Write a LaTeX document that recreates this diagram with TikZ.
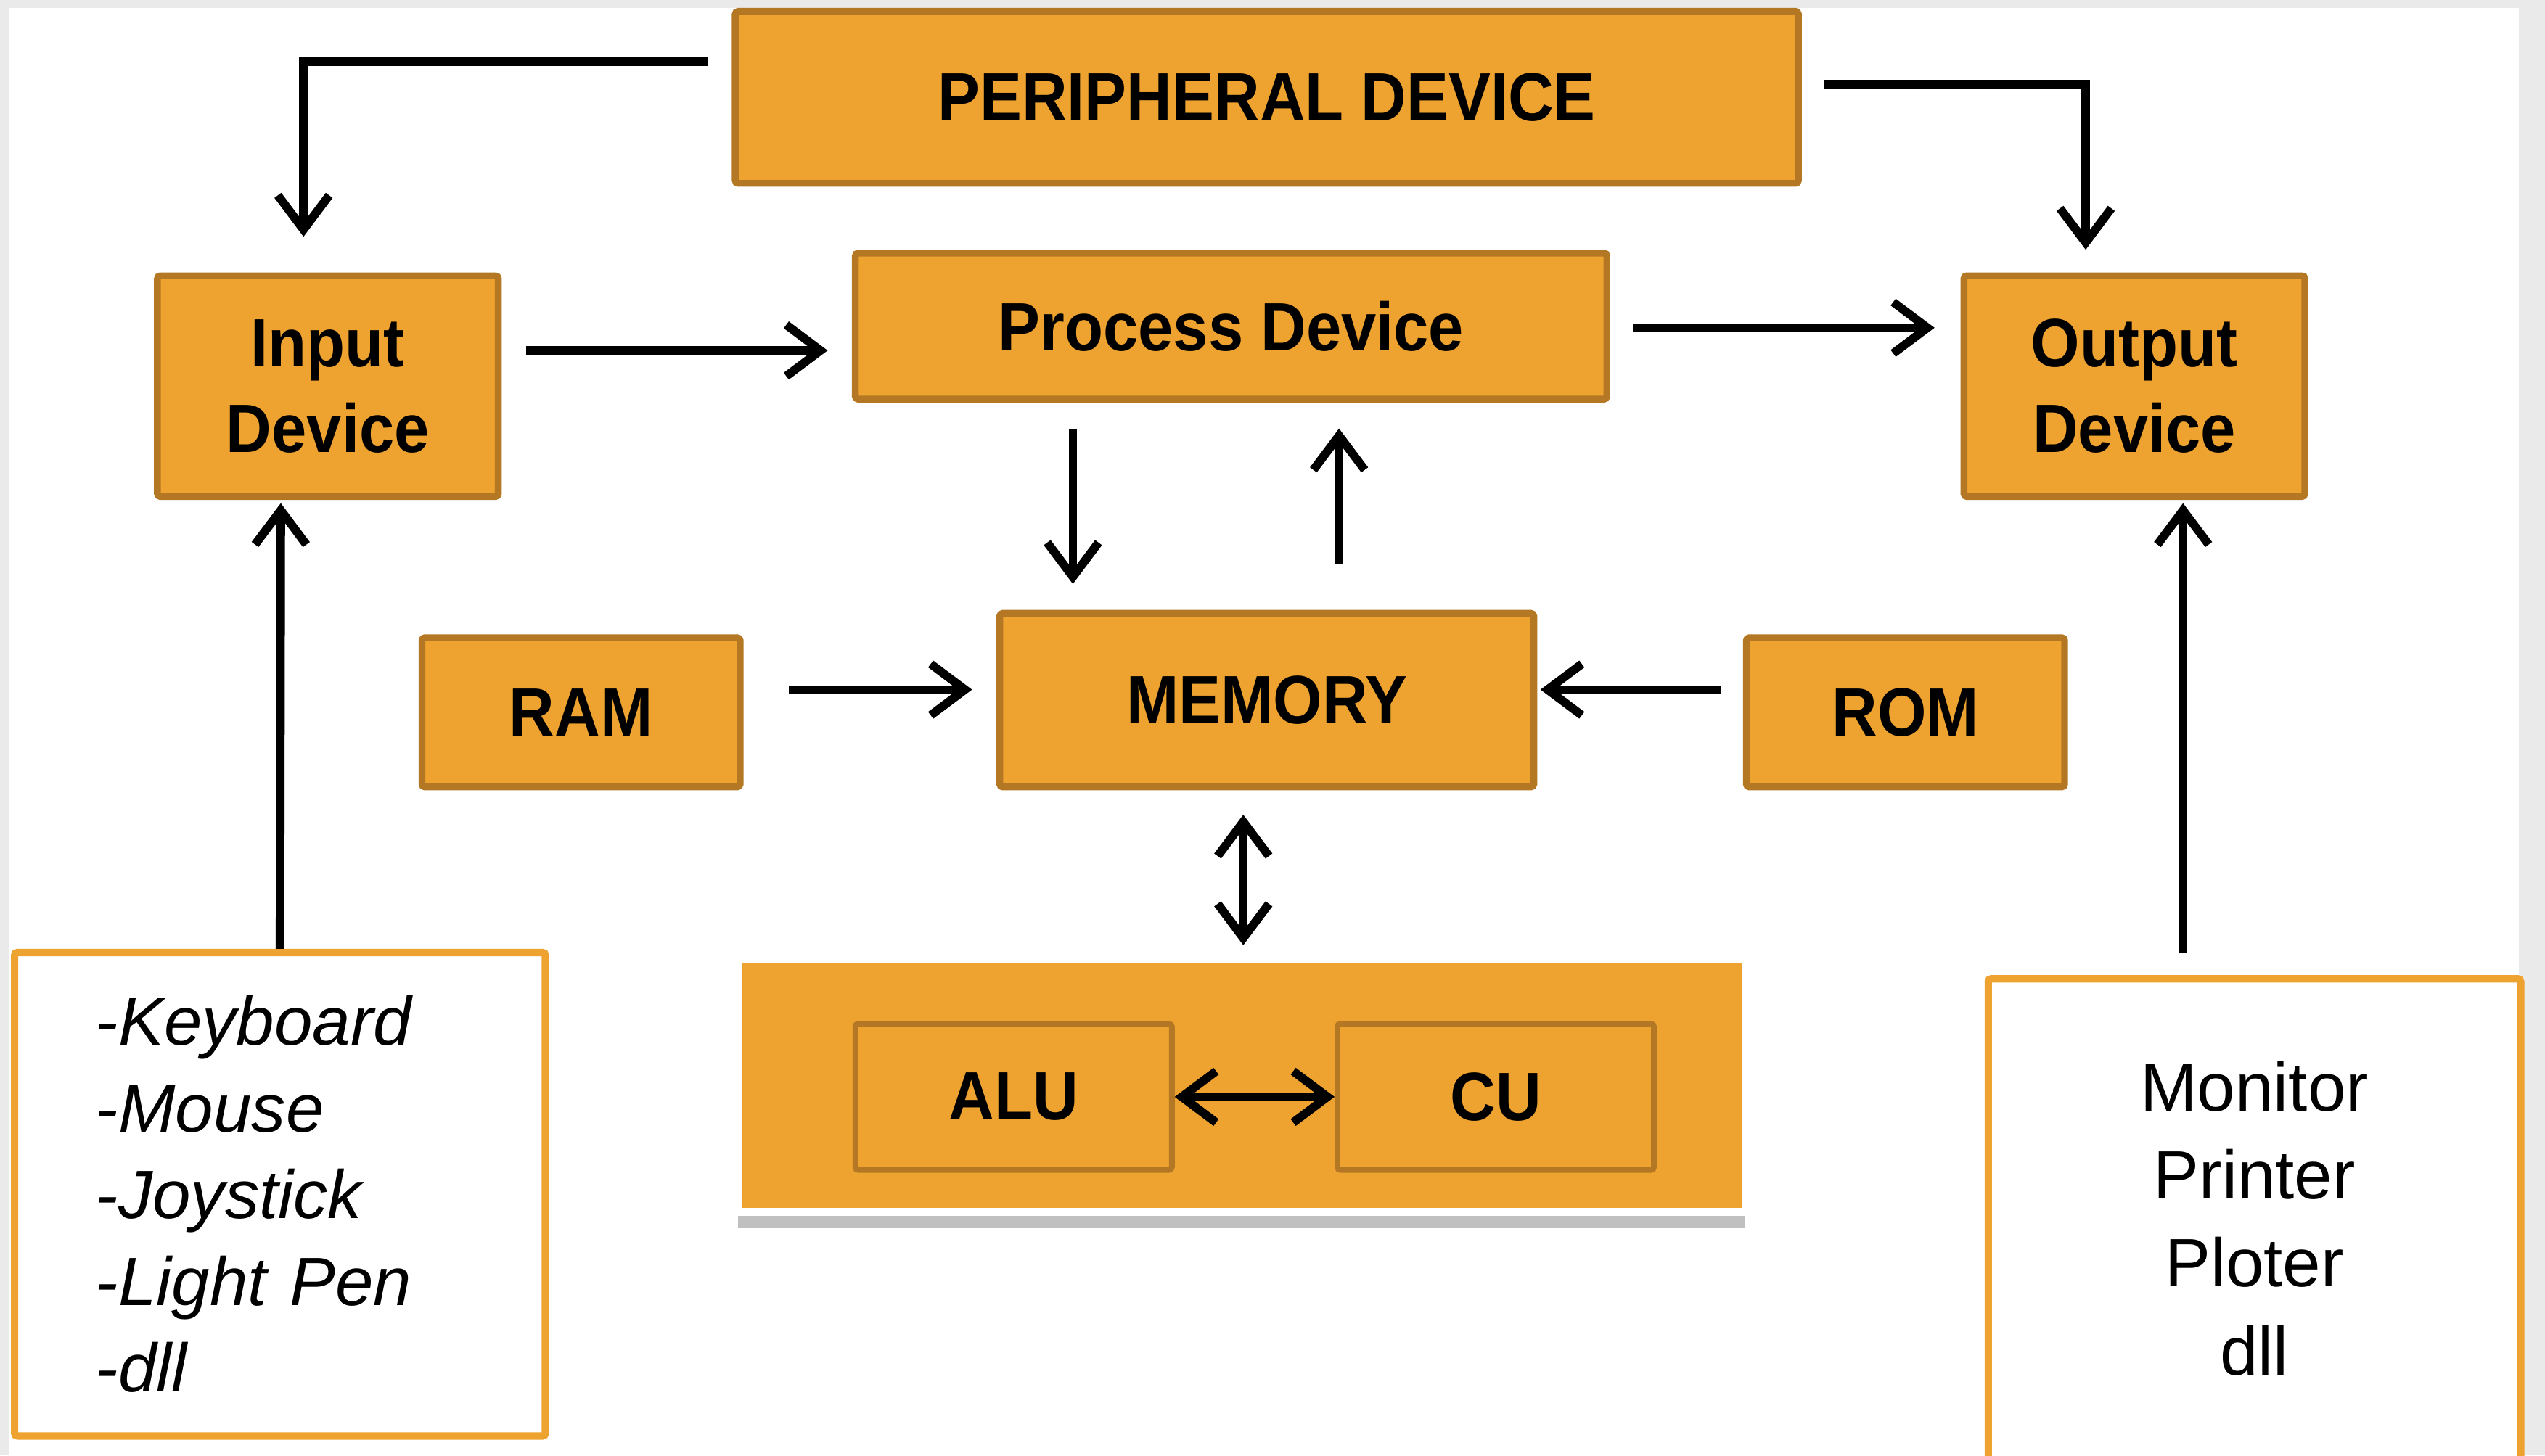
\documentclass[tikz,border=0pt]{standalone}
\usepackage{fontspec}
\setmainfont{Liberation Sans}
\newfontfamily\boxfont{Liberation Sans}[FakeStretch=0.92]
\usetikzlibrary{arrows.meta,shadows}
\definecolor{boxfill}{RGB}{238,163,48}
\definecolor{boxedge}{RGB}{180,120,36}
\definecolor{bggrey}{RGB}{234,234,234}

\tikzset{
	box/.style={draw=boxedge,fill=boxfill,line width=1.2pt,rounded corners=0.5pt,inner sep=0pt,align=center,font=\boxfont\bfseries\fontsize{12}{15}\selectfont},
	listbox/.style={draw=boxfill,fill=white,line width=1.3pt,rounded corners=0.5pt,inner sep=0pt},
	arr/.style={-{Straight Barb[length=6pt,width=9pt]},line width=1.5pt},
	dblarr/.style={{Straight Barb[length=6pt,width=9pt]}-{Straight Barb[length=6pt,width=9pt]},line width=1.5pt}
}

\begin{document}
\begin{tikzpicture}[x=0.1mm,y=-0.1mm]
			\useasboundingbox (0,0) rectangle (1568,897);
			\clip (0,0) rectangle (1568,897);
			\fill[bggrey] (0,0) rectangle (1568,897);
			\fill[white] (6,5) rectangle (1552,897);
			
			\node[fill=boxfill,draw=white,line width=0.5mm,minimum width=6.21cm,minimum height=1.56cm,drop shadow={shadow xshift=0mm,shadow yshift=-1mm,opacity=0.35,fill=black!70}] (cpu) at (765,669) {};
			
			\node[box,minimum width=6.55cm,minimum height=1.06cm] (periph) at (780.5,60) {PERIPHERAL DEVICE};
			\node[box,minimum width=2.1cm,minimum height=1.36cm] (input) at (202,238) {Input\\Device};
			\node[box,minimum width=4.63cm,minimum height=0.9cm] (process) at (758.5,201) {Process Device};
			\node[box,minimum width=2.1cm,minimum height=1.36cm] (output) at (1315,238) {Output\\Device};
			\node[box,minimum width=1.96cm,minimum height=0.92cm] (ram) at (358,439) {RAM};
			\node[box,minimum width=3.29cm,minimum height=1.07cm] (memory) at (780.5,431.5) {MEMORY};
			\node[box,minimum width=1.96cm,minimum height=0.92cm] (rom) at (1174,439) {ROM};
			\node[box,line width=1pt,minimum width=1.95cm,minimum height=0.9cm] (alu) at (624.5,676) {ALU};
			\node[box,line width=1pt,minimum width=1.95cm,minimum height=0.9cm] (cu) at (921.5,676) {CU};
			
			\node[listbox,text width=2.27cm,inner xsep=5mm,minimum height=2.98cm,align=left,font=\itshape\fontsize{12}{15.2}\selectfont] (inlist) at (172.5,736) {-Keyboard\\-Mouse\\-Joystick\\-Light Pen\\-dll};
			\node[listbox,minimum width=3.28cm,minimum height=3.4cm,anchor=north] (outbox) at (1389,601) {};
			\node[font=\fontsize{12}{15.4}\selectfont,align=center] (outtext) at (1389,751) {Monitor\\Printer\\Ploter\\dll};
			
			\draw[arr] ([shift={(-15,-22)}]periph.west) -| ([shift={(-15,-22)}]input.north);
			\draw[arr] ([shift={(14,-8)}]periph.east) -| ([shift={(-30,-14)}]output.north);
			\draw[arr] ([shift={(15,-22)}]input.east) -- ([shift={(-15,15)}]process.west);
			\draw[arr] ([shift={(14,1)}]process.east) -- ([shift={(-16,-36)}]output.west);
			\draw[arr] ([shift={(-97.5,16)}]process.south) -- ([shift={(-119.5,-16)}]memory.north);
			\draw[arr] ([shift={(44.5,-28)}]memory.north) -- ([shift={(66.5,16)}]process.south);
			\draw[arr] ([shift={(28,-14)}]ram.east) -- ([shift={(-15,-6.5)}]memory.west);
			\draw[arr] ([shift={(-14,-14)}]rom.west) -- ([shift={(2,-6.5)}]memory.east);
			\draw[dblarr] ([shift={(-14.5,15)}]memory.south) -- ([shift={(1,-6)}]cpu.north);
			\draw[dblarr] (alu) -- (cu);
			\draw[arr] (inlist.north) -- ([shift={(-29,2)}]input.south);
			\draw[arr] ([shift={(-44,-14)}]outbox.north) -- ([shift={(30,2)}]output.south);
\end{tikzpicture}
\end{document}
